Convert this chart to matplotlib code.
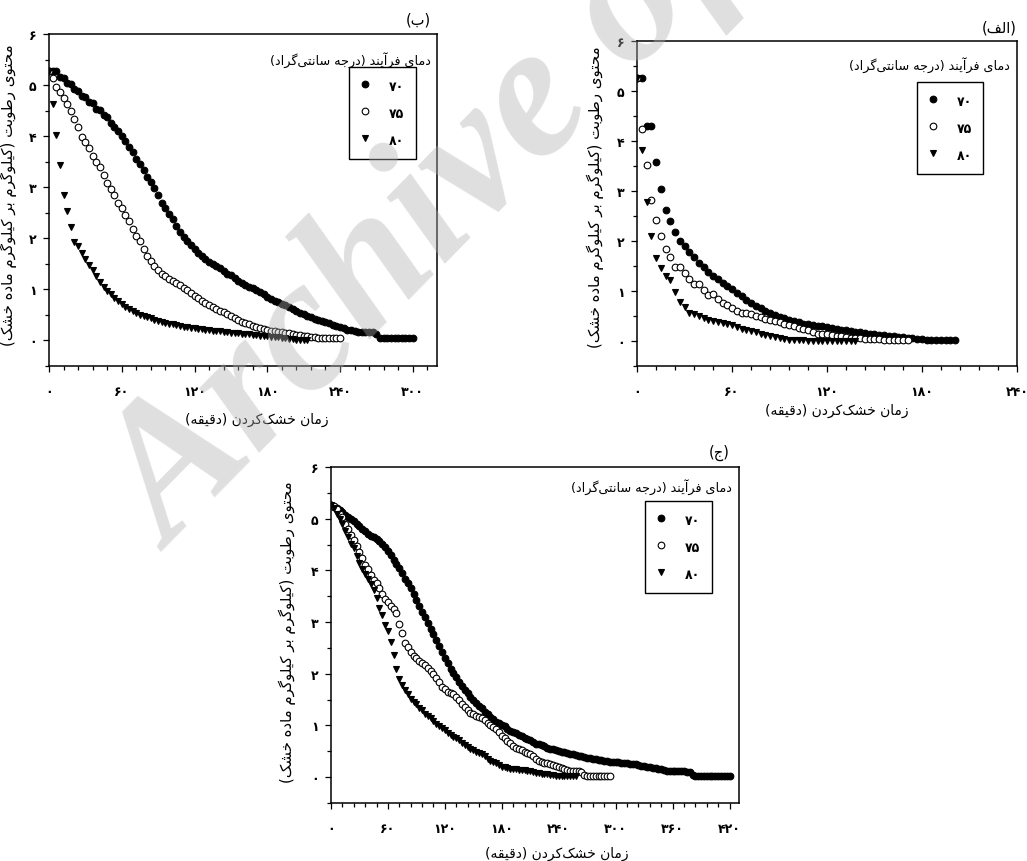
import numpy as np
import matplotlib
matplotlib.use('Agg')
import matplotlib.pyplot as plt
from matplotlib.ticker import MultipleLocator, FuncFormatter

W, H = 1027, 862
STEP = 3  # minutes between two weighings

### data (moisture content, kg water / kg dry matter), one value every STEP minutes
# panel (الف)
alef_70 = [5.26, 5.26, 4.30, 4.30, 3.59, 3.05, 2.62, 2.40, 2.18, 2.01,
           1.91, 1.79, 1.68, 1.57, 1.49, 1.38, 1.31, 1.24, 1.16, 1.10,
           1.05, 0.97, 0.90, 0.83, 0.77, 0.71, 0.66, 0.61, 0.56, 0.52,
           0.49, 0.46, 0.43, 0.40, 0.38, 0.35, 0.34, 0.33, 0.31, 0.30,
           0.29, 0.27, 0.25, 0.23, 0.22, 0.20, 0.19, 0.18, 0.17, 0.15,
           0.14, 0.13, 0.12, 0.11, 0.10, 0.09, 0.08, 0.07, 0.06, 0.05,
           0.04, 0.03, 0.03, 0.02, 0.02, 0.02, 0.02, 0.02]
alef_75 = [5.26, 4.24, 3.52, 2.82, 2.42, 2.10, 1.84, 1.68, 1.48, 1.48,
           1.36, 1.24, 1.14, 1.14, 1.02, 0.92, 0.94, 0.84, 0.77, 0.72,
           0.66, 0.61, 0.57, 0.57, 0.54, 0.50, 0.48, 0.45, 0.42, 0.40,
           0.38, 0.35, 0.33, 0.30, 0.27, 0.25, 0.22, 0.18, 0.15, 0.15,
           0.14, 0.13, 0.11, 0.10, 0.09, 0.07, 0.07, 0.06, 0.05, 0.05,
           0.04, 0.04, 0.03, 0.03, 0.03, 0.02, 0.02, 0.02]
alef_80 = [5.26, 3.82, 2.78, 2.10, 1.66, 1.46, 1.31, 1.22, 0.99, 0.79,
           0.69, 0.56, 0.54, 0.50, 0.46, 0.42, 0.41, 0.38, 0.37, 0.34,
           0.32, 0.29, 0.25, 0.22, 0.20, 0.18, 0.15, 0.13, 0.11, 0.09,
           0.07, 0.05, 0.03, 0.02, 0.02, 0.02, 0.01, 0.01, 0.01, 0.01,
           0.01, 0.01, 0.01, 0.01, 0.01, 0.01, 0.01]

# panel (ب)
be_70 = [5.27, 5.27, 5.27, 5.15, 5.13, 5.04, 5.02, 4.92, 4.88, 4.78,
         4.76, 4.66, 4.64, 4.54, 4.51, 4.42, 4.38, 4.26, 4.18, 4.10,
         4.00, 3.90, 3.78, 3.68, 3.56, 3.46, 3.34, 3.20, 3.10, 2.98,
         2.84, 2.70, 2.60, 2.48, 2.38, 2.24, 2.12, 2.02, 1.94, 1.86,
         1.80, 1.72, 1.66, 1.60, 1.54, 1.49, 1.45, 1.41, 1.36, 1.31,
         1.28, 1.23, 1.17, 1.13, 1.09, 1.05, 1.02, 0.98, 0.95, 0.91,
         0.86, 0.82, 0.78, 0.75, 0.72, 0.69, 0.65, 0.62, 0.58, 0.54,
         0.51, 0.48, 0.45, 0.42, 0.40, 0.38, 0.36, 0.34, 0.31, 0.28,
         0.26, 0.24, 0.21, 0.20, 0.18, 0.16, 0.16, 0.16, 0.16, 0.16,
         0.12, 0.05, 0.05, 0.05, 0.05, 0.05, 0.05, 0.05, 0.05, 0.05,
         0.05]
be_75 = [5.27, 5.13, 4.97, 4.87, 4.75, 4.62, 4.49, 4.33, 4.17, 3.99,
         3.89, 3.76, 3.62, 3.49, 3.39, 3.24, 3.09, 2.97, 2.84, 2.70,
         2.59, 2.46, 2.33, 2.18, 2.05, 1.95, 1.80, 1.66, 1.56, 1.46,
         1.38, 1.31, 1.26, 1.21, 1.16, 1.13, 1.09, 1.03, 0.98, 0.93,
         0.88, 0.83, 0.78, 0.73, 0.69, 0.66, 0.62, 0.58, 0.55, 0.52,
         0.48, 0.43, 0.40, 0.37, 0.35, 0.32, 0.29, 0.27, 0.24, 0.22,
         0.21, 0.19, 0.18, 0.17, 0.16, 0.15, 0.15, 0.13, 0.11, 0.10,
         0.09, 0.08, 0.07, 0.06, 0.05, 0.05, 0.05, 0.05, 0.05, 0.05,
         0.05]
be_80 = [5.27, 4.62, 4.02, 3.43, 2.84, 2.53, 2.23, 1.93, 1.84, 1.72,
         1.60, 1.47, 1.37, 1.26, 1.15, 1.05, 0.97, 0.90, 0.84, 0.78,
         0.72, 0.66, 0.61, 0.57, 0.53, 0.50, 0.47, 0.45, 0.43, 0.41,
         0.39, 0.37, 0.35, 0.33, 0.32, 0.30, 0.28, 0.27, 0.26, 0.25,
         0.24, 0.23, 0.22, 0.21, 0.20, 0.19, 0.18, 0.18, 0.17, 0.16,
         0.15, 0.15, 0.14, 0.13, 0.12, 0.12, 0.11, 0.10, 0.09, 0.09,
         0.08, 0.07, 0.06, 0.06, 0.05, 0.04, 0.03, 0.02, 0.01, 0.01,
         0.01, 0.01]

# panel (ج)
jim_70 = [5.26, 5.23, 5.20, 5.17, 5.13, 5.08, 5.03, 4.99, 4.95, 4.90,
          4.86, 4.81, 4.76, 4.71, 4.67, 4.64, 4.60, 4.57, 4.52, 4.46,
          4.37, 4.29, 4.21, 4.13, 4.04, 3.94, 3.84, 3.75, 3.65, 3.54,
          3.43, 3.32, 3.20, 3.09, 2.98, 2.87, 2.76, 2.65, 2.53, 2.42,
          2.31, 2.21, 2.10, 2.01, 1.93, 1.85, 1.76, 1.69, 1.62, 1.55,
          1.49, 1.44, 1.38, 1.33, 1.27, 1.22, 1.16, 1.12, 1.07, 1.04,
          1.01, 0.98, 0.94, 0.90, 0.87, 0.85, 0.82, 0.79, 0.76, 0.73,
          0.71, 0.68, 0.65, 0.64, 0.62, 0.60, 0.57, 0.55, 0.54, 0.52,
          0.51, 0.49, 0.48, 0.46, 0.45, 0.44, 0.42, 0.41, 0.40, 0.39,
          0.38, 0.37, 0.36, 0.35, 0.34, 0.33, 0.32, 0.31, 0.30, 0.30,
          0.29, 0.29, 0.28, 0.28, 0.27, 0.26, 0.26, 0.25, 0.23, 0.22,
          0.21, 0.20, 0.19, 0.18, 0.17, 0.16, 0.15, 0.13, 0.12, 0.12,
          0.12, 0.11, 0.11, 0.11, 0.11, 0.10, 0.10, 0.05, 0.03, 0.02,
          0.02, 0.02, 0.02, 0.02, 0.02, 0.02, 0.02, 0.02, 0.02, 0.02,
          0.02]
jim_75 = [5.26, 5.24, 5.18, 5.10, 5.03, 4.90, 4.80, 4.69, 4.59, 4.47,
          4.35, 4.23, 4.10, 4.03, 3.91, 3.82, 3.75, 3.65, 3.55, 3.45,
          3.38, 3.31, 3.25, 3.18, 2.97, 2.79, 2.60, 2.51, 2.42, 2.35,
          2.30, 2.25, 2.21, 2.16, 2.12, 2.05, 1.99, 1.91, 1.84, 1.74,
          1.70, 1.64, 1.63, 1.61, 1.56, 1.50, 1.42, 1.36, 1.29, 1.25,
          1.23, 1.18, 1.16, 1.14, 1.11, 1.05, 1.01, 0.97, 0.93, 0.87,
          0.79, 0.75, 0.70, 0.66, 0.61, 0.57, 0.54, 0.52, 0.48, 0.46,
          0.44, 0.40, 0.36, 0.32, 0.30, 0.28, 0.27, 0.25, 0.23, 0.21,
          0.19, 0.17, 0.15, 0.13, 0.12, 0.11, 0.11, 0.11, 0.10, 0.05,
          0.02, 0.02, 0.02, 0.02, 0.02, 0.02, 0.02, 0.02, 0.02]
jim_80 = [5.26, 5.20, 5.10, 5.00, 4.90, 4.77, 4.65, 4.52, 4.43, 4.28,
          4.15, 4.03, 3.93, 3.83, 3.74, 3.62, 3.46, 3.28, 3.13, 2.94,
          2.82, 2.62, 2.36, 2.10, 1.90, 1.78, 1.68, 1.60, 1.52, 1.45,
          1.41, 1.34, 1.29, 1.23, 1.18, 1.14, 1.08, 1.03, 0.98, 0.96,
          0.91, 0.86, 0.82, 0.77, 0.75, 0.71, 0.67, 0.63, 0.59, 0.55,
          0.52, 0.49, 0.46, 0.44, 0.41, 0.36, 0.32, 0.30, 0.27, 0.23,
          0.20, 0.19, 0.17, 0.16, 0.16, 0.15, 0.14, 0.14, 0.13, 0.12,
          0.11, 0.10, 0.09, 0.08, 0.07, 0.06, 0.06, 0.05, 0.04, 0.03,
          0.03, 0.02, 0.02, 0.02, 0.02, 0.02, 0.02]

temps = [70, 75, 80]

### texts (logical order, shaped below)
YLABEL = 'محتوی رطوبت (کیلوگرم بر کیلوگرم ماده خشک)'
XLABEL = 'زمان خشک\u200cکردن (دقیقه)'
LEG_TITLE = 'دمای فرآیند (درجه سانتی\u200cگراد)'

### tiny arabic/persian shaper (no arabic_reshaper / bidi here)
# iso, fin[, ini, med]
FORMS = {
    '\u0627': ('\uFE8D', '\uFE8E'), '\u0622': ('\uFE81', '\uFE82'),
    '\u062F': ('\uFEA9', '\uFEAA'), '\u0631': ('\uFEAD', '\uFEAE'),
    '\u0632': ('\uFEAF', '\uFEB0'), '\u0648': ('\uFEED', '\uFEEE'),
    '\u0628': ('\uFE8F', '\uFE90', '\uFE91', '\uFE92'),
    '\u062A': ('\uFE95', '\uFE96', '\uFE97', '\uFE98'),
    '\u062C': ('\uFE9D', '\uFE9E', '\uFE9F', '\uFEA0'),
    '\u062D': ('\uFEA1', '\uFEA2', '\uFEA3', '\uFEA4'),
    '\u062E': ('\uFEA5', '\uFEA6', '\uFEA7', '\uFEA8'),
    '\u0633': ('\uFEB1', '\uFEB2', '\uFEB3', '\uFEB4'),
    '\u0634': ('\uFEB5', '\uFEB6', '\uFEB7', '\uFEB8'),
    '\u0637': ('\uFEC1', '\uFEC2', '\uFEC3', '\uFEC4'),
    '\u0641': ('\uFED1', '\uFED2', '\uFED3', '\uFED4'),
    '\u0642': ('\uFED5', '\uFED6', '\uFED7', '\uFED8'),
    '\u0643': ('\uFED9', '\uFEDA', '\uFEDB', '\uFEDC'),
    '\u0644': ('\uFEDD', '\uFEDE', '\uFEDF', '\uFEE0'),
    '\u0645': ('\uFEE1', '\uFEE2', '\uFEE3', '\uFEE4'),
    '\u0646': ('\uFEE5', '\uFEE6', '\uFEE7', '\uFEE8'),
    '\u0647': ('\uFEE9', '\uFEEA', '\uFEEB', '\uFEEC'),
    '\u064A': ('\uFEF1', '\uFEF2', '\uFEF3', '\uFEF4'),
    '\u06A9': ('\uFB8E', '\uFB8F', '\uFB90', '\uFB91'),
    '\u06AF': ('\uFB92', '\uFB93', '\uFB94', '\uFB95'),
    '\u06CC': ('\uFBFC', '\uFBFD', '\uFBFE', '\uFBFF'),
}

def shape(text):
    out = []
    for i, ch in enumerate(text):
        if ch not in FORMS:
            if ch != '\u200c':
                out.append(ch)
            continue
        prev = text[i-1] if i > 0 else ''
        nxt = text[i+1] if i < len(text)-1 else ''
        f = FORMS[ch]
        jp = prev in FORMS and len(FORMS[prev]) == 4
        jn = len(f) == 4 and nxt in FORMS
        if jp and jn:
            out.append(f[3])
        elif jp:
            out.append(f[1])
        elif jn:
            out.append(f[2])
        else:
            out.append(f[0])
    vis = ''.join(reversed(out))
    return vis.translate(str.maketrans('()', ')('))

def fa(n):
    return str(n).translate(str.maketrans('0123456789', '۰۱۲۳۴۵۶۷۸۹'))

plt.rcParams['font.family'] = ['DejaVu Sans']

def px_rect(l, t, r, b):
    return [l/W, 1 - b/H, (r-l)/W, (b-t)/H]

# layout in pixels: axes box, legend box, text anchors
PANELS = [
    dict(tag='(الف)', series=(alef_70, alef_75, alef_80), box=(637, 42, 1017, 367),
         xmax=240, tag_xy=(1017, 28), leg=(917, 83), title_xy=(1010, 65),
         xlab=(837, 404), ylab=(604, 197)),
    dict(tag='(ب)', series=(be_70, be_75, be_80), box=(49, 35, 437, 367),
         xmax=320, tag_xy=(431, 20), leg=(349, 68), title_xy=(431, 60),
         xlab=(257, 413), ylab=(17, 195)),
    dict(tag='(ج)', series=(jim_70, jim_75, jim_80), box=(331, 468, 739, 804),
         xmax=430, tag_xy=(730, 453), leg=(645, 502), title_xy=(732, 487),
         xlab=(557, 847), ylab=(296, 632)),
]
STYLES = [dict(marker='o', mfc='black'),
          dict(marker='o', mfc='white'),
          dict(marker='v', mfc='black')]

fig = plt.figure(figsize=(W/100, H/100), dpi=100)

for p in PANELS:
    l, t, r, b = p['box']
    ax = fig.add_axes(px_rect(l, t, r, b))
    for vals, st, temp in zip(p['series'], STYLES, temps):
        minutes = np.arange(len(vals)) * STEP
        ax.plot(minutes, vals, linestyle='none', ms=4.8, mec='black', mew=0.8,
                label=fa(temp), zorder=3, **st)

    ax.set_xlim(0, p['xmax'])
    ax.set_ylim(-0.5, 6)
    ax.xaxis.set_major_locator(MultipleLocator(60))
    ax.xaxis.set_minor_locator(MultipleLocator(12))
    ax.yaxis.set_major_locator(MultipleLocator(1))
    ax.yaxis.set_minor_locator(MultipleLocator(0.5))
    fmt = FuncFormatter(lambda v, pos: fa(int(round(v))))
    ax.xaxis.set_major_formatter(fmt)
    ax.yaxis.set_major_formatter(fmt)
    ax.tick_params(which='both', direction='out', top=False, right=False, width=0.9)
    ax.tick_params(which='major', length=4, labelsize=9)
    ax.tick_params(which='minor', length=3)
    ax.tick_params(axis='x', pad=10)
    ax.tick_params(axis='y', pad=5)
    for lab in ax.get_xticklabels() + ax.get_yticklabels():
        lab.set_fontweight('bold')
    for sp in ax.spines.values():
        sp.set_linewidth(1.1)

    w, h = r - l, b - t
    ax.set_xlabel(shape(XLABEL), fontsize=10)
    ax.xaxis.set_label_coords((p['xlab'][0]-l)/w, (b-p['xlab'][1])/h)
    ax.set_ylabel(shape(YLABEL), fontsize=10.8)
    ax.yaxis.set_label_coords((p['ylab'][0]-l)/w, (b-p['ylab'][1])/h)

    ax.text((p['title_xy'][0]-l)/w, (b-p['title_xy'][1])/h, shape(LEG_TITLE),
            transform=ax.transAxes, ha='right', va='center', fontsize=9.2)

    leg = ax.legend(loc='upper left',
                    bbox_to_anchor=((p['leg'][0]-l)/w, (b-p['leg'][1])/h),
                    borderaxespad=0, fancybox=False, edgecolor='black',
                    framealpha=1, prop=dict(size=9, weight='bold'),
                    borderpad=0.9, handlelength=0.8, handletextpad=1.5,
                    handleheight=1.5, labelspacing=0.95)
    leg.get_frame().set_linewidth(1.0)

    fig.text(p['tag_xy'][0]/W, 1 - p['tag_xy'][1]/H, shape(p['tag']),
             ha='right', va='center', fontsize=10.5)

# watermark of the source page
fig.text(172/W, 1 - 552/H, 'Archive of SID', rotation=45.5, rotation_mode='anchor',
         ha='left', va='baseline', fontsize=137, family='Liberation Serif',
         weight='bold', style='italic', color='#b0b0b0', alpha=0.4, zorder=10)

fig.savefig('out.png', dpi=100)
